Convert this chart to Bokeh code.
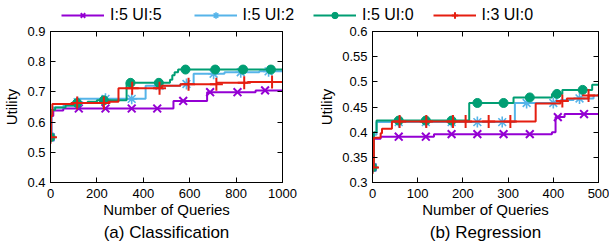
import numpy as np
from bokeh.plotting import figure
from bokeh.layouts import row, column
from bokeh.models import (Range1d, FixedTicker, NumeralTickFormatter, LinearAxis,
                          CustomJSTickFormatter, Legend, LegendItem, Title)
from bokeh.embed import file_html
from bokeh.resources import INLINE

FONT = "Liberation Sans"

series_labels = ["I:5 UI:5", "I:5 UI:2", "I:5 UI:0", "I:3 UI:0"]
series_colors = ["#9400d3", "#56b4e9", "#009e73", "#e51e10"]
series_markers = ["x", "asterisk", "circle", "cross"]

# ---------------- (a) Classification ----------------
cls_x_i5ui5 = [0, 4, 12, 55, 530, 675, 884, 1000]
cls_y_i5ui5 = [0.55, 0.62, 0.638, 0.645, 0.67, 0.699, 0.705, 0.705]
cls_m_i5ui5 = [0, 122, 237, 350, 460, 572, 688, 806, 925]

cls_x_i5ui2 = [0, 3, 12, 56, 100, 122, 410, 560, 617, 750, 900, 1000]
cls_y_i5ui2 = [0.55, 0.64, 0.648, 0.655, 0.666, 0.677, 0.72, 0.726, 0.76, 0.765, 0.768, 0.768]
cls_m_i5ui2 = [0, 117, 237, 350, 470, 586, 703, 820, 940]

cls_x_i5ui0 = [0, 3, 20, 65, 100, 160, 200, 328, 515, 525, 535, 550, 1000]
cls_y_i5ui0 = [0.55, 0.64, 0.648, 0.655, 0.663, 0.667, 0.672, 0.73, 0.74, 0.755, 0.765, 0.774, 0.774]
cls_m_i5ui0 = [0, 115, 230, 345, 467, 582, 710, 830, 950]

cls_x_i3ui0 = [0, 2, 8, 100, 250, 293, 480, 560, 718, 850, 1000]
cls_y_i3ui0 = [0.55, 0.62, 0.66, 0.663, 0.667, 0.712, 0.72, 0.725, 0.73, 0.733, 0.733]
cls_m_i3ui0 = [0, 115, 230, 352, 470, 595, 715, 835, 955]

cls_xticks = [0, 200, 400, 600, 800, 1000]
cls_yticks = [0.4, 0.5, 0.6, 0.7, 0.8, 0.9]

# ---------------- (b) Regression ----------------
reg_x_i5ui5 = [0, 3, 18, 136, 397, 405, 425, 500]
reg_y_i5ui5 = [0.33, 0.387, 0.391, 0.396, 0.40, 0.43, 0.436, 0.436]
reg_m_i5ui5 = [0, 58, 118, 175, 232, 290, 348, 410, 468]

reg_x_i5ui2 = [0, 3, 9, 315, 416, 445, 489, 500]
reg_y_i5ui2 = [0.33, 0.395, 0.42, 0.458, 0.464, 0.467, 0.473, 0.473]
reg_m_i5ui2 = [0, 58, 118, 175, 232, 287, 341, 400, 458]

reg_x_i5ui0 = [0, 3, 9, 214, 312, 397, 420, 486, 500]
reg_y_i5ui0 = [0.33, 0.40, 0.423, 0.458, 0.469, 0.476, 0.484, 0.494, 0.494]
reg_m_i5ui0 = [0, 58, 118, 175, 232, 290, 348, 408, 465]

reg_x_i3ui0 = [0, 3, 18, 21, 43, 361, 416, 430, 478, 500]
reg_y_i3ui0 = [0.33, 0.389, 0.398, 0.407, 0.421, 0.457, 0.462, 0.467, 0.473, 0.476]
reg_m_i3ui0 = [0, 60, 119, 178, 206, 257, 305, 420, 478]

reg_xticks = [0, 100, 200, 300, 400, 500]
reg_yticks = [0.3, 0.35, 0.4, 0.45, 0.5, 0.55, 0.6]

cls_series = [(cls_x_i5ui5, cls_y_i5ui5, cls_m_i5ui5),
              (cls_x_i5ui2, cls_y_i5ui2, cls_m_i5ui2),
              (cls_x_i5ui0, cls_y_i5ui0, cls_m_i5ui0),
              (cls_x_i3ui0, cls_y_i3ui0, cls_m_i3ui0)]
reg_series = [(reg_x_i5ui5, reg_y_i5ui5, reg_m_i5ui5),
              (reg_x_i5ui2, reg_y_i5ui2, reg_m_i5ui2),
              (reg_x_i5ui0, reg_y_i5ui0, reg_m_i5ui0),
              (reg_x_i3ui0, reg_y_i3ui0, reg_m_i3ui0)]

MARKER_SIZE = {"x": 11, "asterisk": 11, "circle": 9, "cross": 13}
MARKER_LW = {"x": 2, "asterisk": 1.6, "circle": 1, "cross": 2}

LEG_FIG_H = 24
FIG_H = 220
BORDER_TOP = 7
FRAME_H = 151
LEG_H = 16


def step_value(xs, ys, mx):
    xs = np.asarray(xs, dtype=float)
    ys = np.asarray(ys, dtype=float)
    idx = np.searchsorted(xs, np.asarray(mx, dtype=float), side="right") - 1
    idx = np.clip(idx, 0, len(ys) - 1)
    return ys[idx]


def make_panel(series, xr, yr, xticks, yticks, yfmt, caption, width, bl, br):
    p = figure(width=width, height=FIG_H, output_backend="svg", toolbar_location=None,
               x_range=Range1d(*xr), y_range=Range1d(*yr),
               min_border_left=bl, min_border_right=br, min_border_top=BORDER_TOP,
               min_border_bottom=FIG_H - BORDER_TOP - FRAME_H)
    p.grid.visible = False
    p.outline_line_color = "black"
    p.outline_line_width = 1

    for ax in (p.xaxis[0], p.yaxis[0]):
        ax.major_tick_in = 5
        ax.major_tick_out = 0
        ax.minor_tick_line_color = None
        ax.axis_line_color = "black"
        ax.major_tick_line_color = "black"
        ax.major_label_text_font = FONT
        ax.major_label_text_font_size = "13px"
        ax.major_label_text_color = "black"
        ax.axis_label_text_font = FONT
        ax.axis_label_text_font_size = "15px"
        ax.axis_label_text_font_style = "normal"
        ax.axis_label_text_color = "black"
    p.xaxis[0].major_label_standoff = 6
    p.yaxis[0].major_label_standoff = 5
    p.xaxis[0].ticker = FixedTicker(ticks=xticks)
    p.yaxis[0].ticker = FixedTicker(ticks=yticks)
    p.yaxis[0].formatter = NumeralTickFormatter(format=yfmt)
    p.xaxis[0].axis_label = "Number of Queries"
    p.yaxis[0].axis_label = "Utility"
    p.xaxis[0].axis_label_standoff = 0
    p.yaxis[0].axis_label_standoff = 4

    # mirrored ticks on top and right
    for loc, tk in (("above", xticks), ("right", yticks)):
        ax = LinearAxis(ticker=FixedTicker(ticks=tk),
                        formatter=CustomJSTickFormatter(code="return ''"),
                        major_tick_in=5, major_tick_out=0,
                        minor_tick_line_color=None, axis_line_color="black",
                        major_label_standoff=0)
        p.add_layout(ax, loc)

    for (xs, ys, mx), col, mk in zip(series, series_colors, series_markers):
        p.step(xs, ys, mode="after", line_color=col, line_width=2)
        my = step_value(xs, ys, mx)
        p.scatter(mx, my, marker=mk, size=MARKER_SIZE[mk], line_color=col,
                  fill_color=col, line_width=MARKER_LW[mk])

    cap = Title(text=caption, align="center", text_font=FONT,
                text_font_size="17px", text_font_style="normal",
                text_color="black", standoff=1)
    p.add_layout(cap, "below")
    return p


pa = make_panel(cls_series, (0, 1000), (0.4, 0.9), cls_xticks, cls_yticks, "0.0",
                "(a) Classification", 300, 50, 18)
pb = make_panel(reg_series, (0, 500), (0.3, 0.6), reg_xticks, reg_yticks, "0.[00]",
                "(b) Regression", 309, 72, 11)

# ---------------- shared key (its own strip above both panels) ----------------
# The key's renderers carry the classification series but the strip's ranges keep
# them out of view, so only the legend swatches are shown.
lg = figure(width=609, height=LEG_FIG_H, output_backend="svg", toolbar_location=None,
            x_range=Range1d(-3000, -2000), y_range=Range1d(-3, -2),
            min_border_left=0, min_border_right=0, min_border_top=0, min_border_bottom=0)
lg.axis.visible = False
lg.grid.visible = False
lg.outline_line_color = None

key_renderers = []
for (xs, ys, mx), col, mk in zip(cls_series, series_colors, series_markers):
    lr = lg.line(x=xs, y=ys, line_color=col, line_width=2)
    sr = lg.scatter(x=mx, y=step_value(xs, ys, mx), marker=mk, size=MARKER_SIZE[mk],
                    line_color=col, fill_color=col, line_width=MARKER_LW[mk])
    key_renderers.append([lr, sr])

for idx, lx, sp in (([0, 1], 61, 32), ([2, 3], 313, 19)):
    items = [LegendItem(label=series_labels[i], renderers=key_renderers[i]) for i in idx]
    leg = Legend(items=items, orientation="horizontal", location=(lx, 0),
                 glyph_width=43, glyph_height=LEG_H, label_height=LEG_H, label_standoff=6,
                 spacing=sp, padding=0, margin=0,
                 border_line_color=None, background_fill_alpha=0,
                 label_text_font=FONT, label_text_font_size="16px",
                 label_text_color="black")
    lg.add_layout(leg, "center")

layout = column(lg, row(pa, pb))
open("out.html", "w").write(file_html(layout, INLINE))
